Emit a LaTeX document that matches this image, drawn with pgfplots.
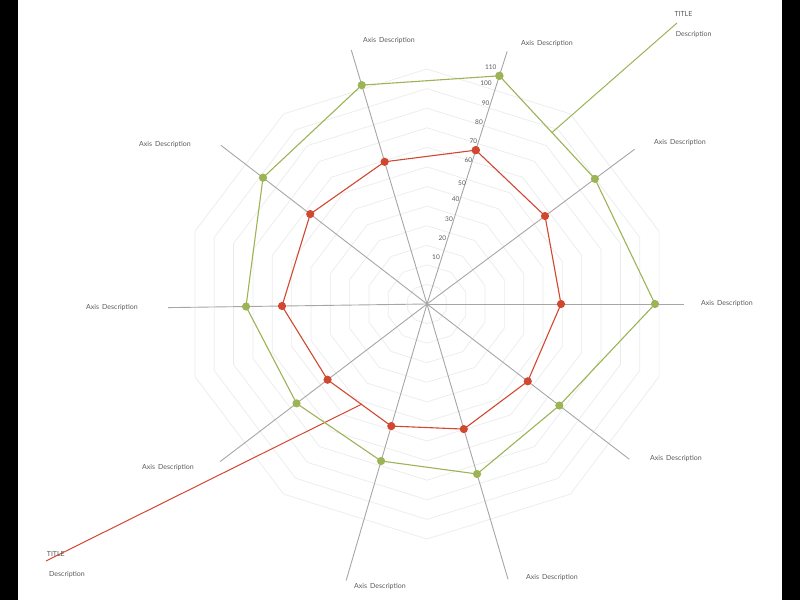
\documentclass[border=0pt]{standalone}
\usepackage{fontspec}
\setmainfont{Lato}
\usepackage{pgfplots}
\pgfplotsset{compat=1.18}
\definecolor{grn}{HTML}{9CB356}
\definecolor{rd}{HTML}{D2472F}
\definecolor{gridc}{HTML}{EBEBEB}
\definecolor{axc}{HTML}{A6A6A6}
\definecolor{txt}{HTML}{5A5A5A}
\begin{document}
\begin{tikzpicture}
\begin{axis}[x=2pt,y=2pt,
  xmin=-213.5,xmax=186.5,ymin=-148,ymax=152,
  axis lines=none, xtick=\empty, ytick=\empty, clip=false,
  anchor=south west, at={(0,0)}]
% frame / bounding box and side bars
\path (axis cs:-213.5,-148) rectangle (axis cs:186.5,152);
\fill[black] (axis cs:-213.5,-148) rectangle (axis cs:-204.5,152);
\fill[black] (axis cs:177.5,-148) rectangle (axis cs:186.5,152);
% decagon grid
\pgfplotsinvokeforeach{1,...,12}{
  \draw[gridc, line width=0.7pt, shift={(axis cs:0,0)}, scale=#1/12]
    (0pt,235pt) -- (-143.4pt,190.1pt) -- (-232.1pt,72.6pt) -- (-232.1pt,-72.6pt)
    -- (-143.4pt,-190.1pt) -- (0pt,-235pt) -- (143.4pt,-190.1pt) -- (232.1pt,-72.6pt)
    -- (232.1pt,72.6pt) -- (143.4pt,190.1pt) -- cycle;
}
% spokes
\addplot[axc, line width=0.9pt, data cs=polar] coordinates {(0,0) (72.4,132.5)};
\addplot[axc, line width=0.9pt, data cs=polar] coordinates {(0,0) (36.7,129.5)};
\addplot[axc, line width=0.9pt, data cs=polar] coordinates {(0,0) (0,128.5)};
\addplot[axc, line width=0.9pt, data cs=polar] coordinates {(0,0) (-37.5,127.5)};
\addplot[axc, line width=0.9pt, data cs=polar] coordinates {(0,0) (-73.6,143.5)};
\addplot[axc, line width=0.9pt, data cs=polar] coordinates {(0,0) (-106.3,144)};
\addplot[axc, line width=0.9pt, data cs=polar] coordinates {(0,0) (-142.7,130)};
\addplot[axc, line width=0.9pt, data cs=polar] coordinates {(0,0) (180.8,129.5)};
\addplot[axc, line width=0.9pt, data cs=polar] coordinates {(0,0) (142.4,130)};
\addplot[axc, line width=0.9pt, data cs=polar] coordinates {(0,0) (106.6,132.5)};
% leader lines
\addplot[grn, line width=1pt] coordinates {(62.5,85.75) (125,140.5)};
\addplot[rd, line width=1pt] coordinates {(-32.5,-50) (-190.5,-128.5)};
% series
\addplot[grn, line width=1.1pt, mark=*, mark size=3.5pt, mark options={fill=grn,draw=grn}, data cs=polar] coordinates {
 (72.4,119.7) (36.7,104.7) (0,114) (-37.5,83.4) (-73.6,88.6) (-106.3,81.8)
 (-142.7,82) (180.8,90.5) (142.4,103.5) (106.6,114.2) (72.4,119.7)};
\addplot[rd, line width=1.1pt, mark=*, mark size=3.5pt, mark options={fill=rd,draw=rd}, data cs=polar] coordinates {
 (72.4,80.7) (36.7,73.6) (0,67) (-37.5,63.5) (-73.6,65.2) (-106.3,63.6)
 (-142.7,62.5) (180.8,72.5) (142.4,73.7) (106.6,74.2) (72.4,80.7)};
% tick labels
\begin{scope}[every node/.style={text=txt, font=\fontsize{6.5}{7}\selectfont, inner sep=0pt}]
\node at (axis cs:4.5,23.35) {10};
\node at (axis cs:7.65,32.85) {20};
\node at (axis cs:11,42.5) {30};
\node at (axis cs:14.35,52.35) {40};
\node at (axis cs:17.5,60.65) {50};
\node at (axis cs:20.65,72) {60};
\node at (axis cs:23.15,81.65) {70};
\node at (axis cs:26,90.85) {80};
\node at (axis cs:29.35,100.35) {90};
\node at (axis cs:29.5,110.35) {100};
\node at (axis cs:31.85,118.35) {110};
\end{scope}
% axis descriptions
\begin{scope}[every node/.style={text=txt, font=\fontsize{7}{8}\selectfont, inner sep=0pt}]
\node at (axis cs:60,130) {Axis\hspace{3pt}Description};
\node at (axis cs:126.5,80.5) {Axis\hspace{3pt}Description};
\node at (axis cs:150,0) {Axis\hspace{3pt}Description};
\node at (axis cs:124.5,-77.5) {Axis\hspace{3pt}Description};
\node at (axis cs:62.5,-137) {Axis\hspace{3pt}Description};
\node at (axis cs:-23.5,-141.5) {Axis\hspace{3pt}Description};
\node at (axis cs:-129.5,-82) {Axis\hspace{3pt}Description};
\node at (axis cs:-157.5,-2) {Axis\hspace{3pt}Description};
\node at (axis cs:-131,79.5) {Axis\hspace{3pt}Description};
\node at (axis cs:-19,131.5) {Axis\hspace{3pt}Description};
\node[anchor=west] at (axis cs:123.65,144.85) {TITLE};
\node[anchor=west] at (axis cs:124.35,134.85) {Description};
\node[anchor=west] at (axis cs:-190.15,-125.15) {TITLE};
\node[anchor=west] at (axis cs:-189,-135.15) {Description};
\end{scope}
\end{axis}
\end{tikzpicture}
\end{document}
